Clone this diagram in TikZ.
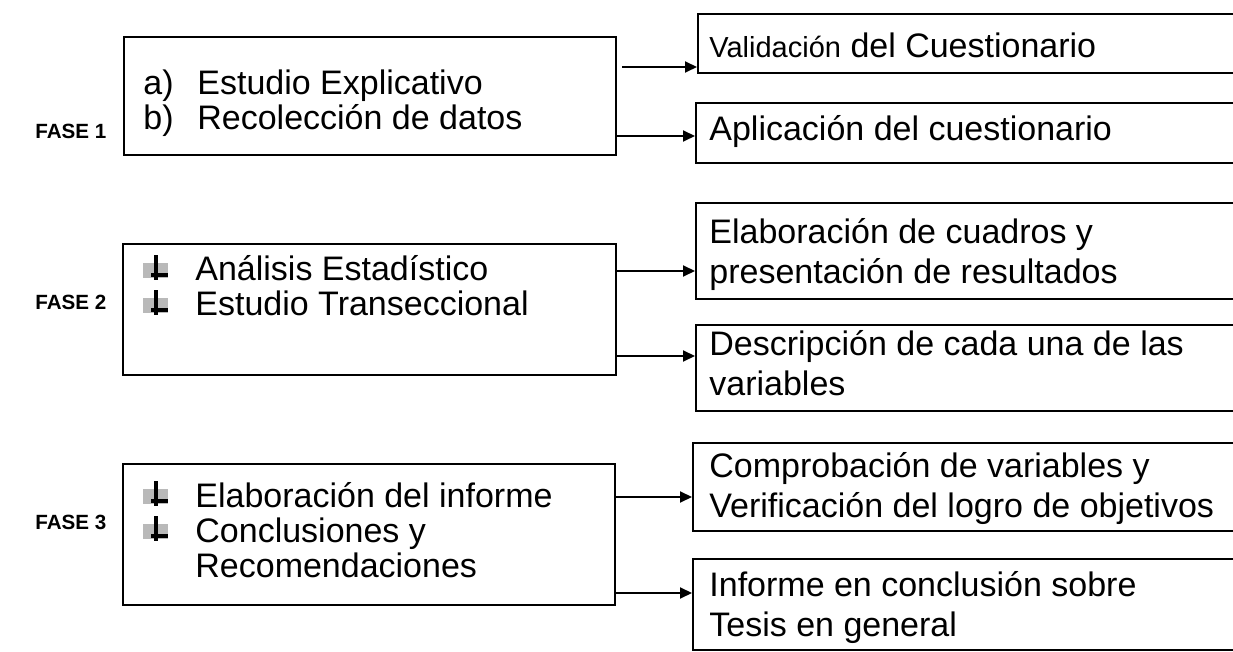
\documentclass[tikz,border=0pt]{standalone}
\usepackage{fontspec}
\setmainfont{Liberation Sans}
\usetikzlibrary{arrows.meta}
\begin{document}
\begin{tikzpicture}[x=0.5pt,y=-0.5pt,
  box/.style={draw, line width=1pt, inner sep=0pt, anchor=north west},
  arr/.style={line width=1pt, -{Triangle[length=6pt,width=5.5pt]}},
  lt/.style={font=\fontsize{17}{17.5}\selectfont, align=left, anchor=west, inner sep=0pt},
  rt/.style={font=\fontsize{17}{20}\selectfont, align=left, anchor=west, inner sep=0pt},
  fase/.style={font=\fontsize{10.3}{12}\selectfont\bfseries, anchor=west, inner sep=0pt},
  bul/.pic={
    \fill[gray!55] (-12,-5) rectangle (13,10);
    \fill (-1,-13) rectangle (3,12);
    \fill (-4,5) rectangle (13,9);
  }]
\useasboundingbox (0,0) rectangle (1233,652);
\clip (0,0) rectangle (1233,652);
% phase labels
\node[fase] (f1) at (35,131) {FASE 1};
\node[fase] (f2) at (35,302) {FASE 2};
\node[fase] (f3) at (35,522) {FASE 3};
% left boxes
\node[box, minimum width=246pt, minimum height=59pt] (L1) at (123,36) {};
\node[box, minimum width=246.5pt, minimum height=65.5pt] (L2) at (122,243) {};
\node[box, minimum width=246pt, minimum height=70.5pt] (L3) at (122,463) {};
% left texts
\node[lt] (t1) at (143,103) {\makebox[27pt][l]{a)}Estudio Explicativo\\\makebox[27pt][l]{b)}Recolección de datos};
\pic at (155,268) {bul};
\pic at (155,303) {bul};
\node[lt] (t2) at (195,286) {Análisis Estadístico\\Estudio Transeccional};
\pic at (155,494) {bul};
\pic at (155,529) {bul};
\node[lt] (t3) at (195,530) {Elaboración del informe\\Conclusiones y\\Recomendaciones};
% right boxes
\node[box, minimum width=285pt, minimum height=29.5pt] (RA) at (697,13) {};
\node[box, minimum width=285pt, minimum height=30pt] (RB) at (695,102) {};
\node[box, minimum width=285pt, minimum height=48pt] (RC) at (695,202) {};
\node[box, minimum width=285pt, minimum height=43pt] (RD) at (695,324) {};
\node[box, minimum width=285pt, minimum height=44pt] (RE) at (692,442) {};
\node[box, minimum width=285pt, minimum height=45.5pt] (RF) at (692,558) {};
% right texts
\node[rt] (ta) at (709,45) {{\fontsize{14.5}{16}\selectfont Validación} del Cuestionario};
\node[rt] (tb) at (709,132) {Aplicación del cuestionario};
\node[rt] (tc) at (709,255) {Elaboración de cuadros y\\presentación de resultados};
\node[rt] (td) at (709,363) {Descripción de cada una de las\\variables};
\node[rt] (te) at (709,489) {Comprobación de variables y\\Verificación del logro de objetivos};
\node[rt] (tf) at (709,608) {Informe en conclusión sobre\\Tesis en general};
% connectors
\draw[arr, shorten <=2.5pt] (L1.east |- 0,67) -- (RA.west |- 0,67);
\draw[arr] (L1.east |- 0,136) -- (RB.west |- 0,136);
\draw[arr] (L2.east |- 0,271) -- (RC.west |- 0,271);
\draw[arr] (L2.east |- 0,356) -- (RD.west |- 0,356);
\draw[arr] (L3.east |- 0,497) -- (RE.west |- 0,497);
\draw[arr] (L3.east |- 0,593) -- (RF.west |- 0,593);
\end{tikzpicture}
\end{document}
